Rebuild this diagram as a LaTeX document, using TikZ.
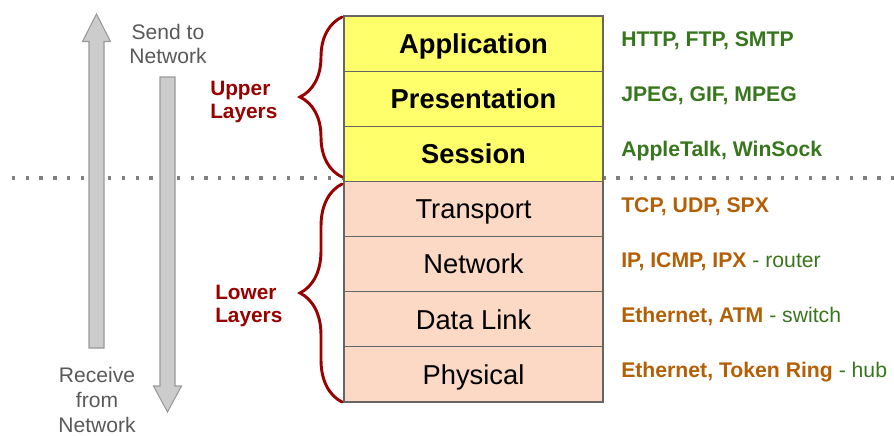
\documentclass[tikz,border=0pt]{standalone}
\usepackage{fontspec}
\setmainfont{Liberation Sans}
\usepackage{tikz}
\usetikzlibrary{decorations.pathreplacing}
\definecolor{osiyellow}{HTML}{FFFF6B}
\definecolor{osipeach}{HTML}{FCD9C4}
\definecolor{bracered}{HTML}{990000}
\definecolor{protogreen}{HTML}{38761D}
\definecolor{protoorange}{HTML}{B45F06}
\definecolor{notegray}{HTML}{595959}
\definecolor{arrowfill}{HTML}{CCCCCC}
\definecolor{arrowline}{HTML}{999999}
\tikzset{
  layerbox/.style={draw={rgb,255:red,102;green,102;blue,102}, line width=0.9pt, minimum width=194.25pt, minimum height=41.36pt, inner sep=0pt, outer sep=0pt, text height=14.7pt, text depth=0pt},
  layerup/.style={layerbox, fill=osiyellow, font=\fontsize{20.5}{24}\selectfont\bfseries},
  layerlow/.style={layerbox, fill=osipeach, font=\fontsize{20.5}{24}\selectfont},
  protolbl/.style={anchor=base west, inner sep=0pt, text=protogreen, font=\fontsize{15.9}{18.5}\selectfont},
  notelbl/.style={align=center, inner sep=0pt, text=notegray, font=\fontsize{15.8}{18.5}\selectfont},
  grouplbl/.style={align=left, anchor=north west, inner sep=0pt, text=bracered, font=\fontsize{15.6}{17.5}\selectfont\bfseries},
  layerbrace/.style={decorate, decoration={brace, amplitude=31.5pt}, draw=bracered, line width=2.2pt, line cap=round},
  bigarrow/.style={fill=arrowfill, draw=arrowline, line width=0.8pt}
}

\begin{document}
\begin{tikzpicture}[x=0.75pt,y=0.75pt,yscale=-1,xscale=1]
\useasboundingbox (0,0) rectangle (894,436);

%Straight Lines: separator
\coordinate (sepL) at (12,178);
\coordinate (sepR) at (894,178);
\draw [draw={rgb,255:red,128;green,128;blue,128}, line width=2.5pt, dash pattern=on 2.5pt off 7.8pt] (sepL) -- (sepR);

%Shape: Up Arrow
\draw [bigarrow] (89,348) -- (89,41.5) -- (82.5,41.5) -- (96.5,14) -- (110.5,41.5) -- (104,41.5) -- (104,348) -- cycle ;
%Shape: Down Arrow
\draw [bigarrow] (160,77) -- (160,386) -- (153.5,386) -- (167.5,412) -- (181.5,386) -- (175,386) -- (175,77) -- cycle ;

% Layers
\node [layerup] (app) at (473.5,43.57) {Application};
\node [layerup] (pres) at (473.5,98.71) {Presentation};
\node [layerup] (sess) at (473.5,153.86) {Session};
\node [layerlow] (trans) at (473.5,209) {Transport};
\node [layerlow] (net) at (473.5,264.14) {Network};
\node [layerlow] (link) at (473.5,319.29) {Data Link};
\node [layerlow] (phys) at (473.5,374.43) {Physical};

%Shape: Braces
\draw [layerbrace] (342,177) -- (342,17) ;
\draw [layerbrace] (342,402) -- (342,184) ;

% Text Node
\node [notelbl] (send) at (168,44) {Send to\\Network};
% Text Node
\node [notelbl] (recv) at (97,400) {Receive\\from\\Network};
% Text Node
\node [grouplbl] (upperlbl) at (210,80.5) {Upper\\Layers};
% Text Node
\node [grouplbl] (lowerlbl) at (215,284.5) {Lower\\Layers};

% Protocols
\node [protolbl] (httpl) at (621,46.6) {\bfseries HTTP, FTP, SMTP};
\node [protolbl] (jpegl) at (621,101.7) {\bfseries JPEG, GIF, MPEG};
\node [protolbl] (atalkl) at (621,156.9) {\bfseries AppleTalk, WinSock};
\node [protolbl] (tcpl) at (621,212) {\textcolor{protoorange}{\bfseries TCP, UDP, SPX}};
\node [protolbl] (ipl) at (621,267.1) {\textcolor{protoorange}{\bfseries IP, ICMP, IPX} - router};
\node [protolbl] (ethl) at (621,322.3) {\textcolor{protoorange}{\bfseries Ethernet, ATM} - switch};
\node [protolbl] (tokl) at (621,377.4) {\textcolor{protoorange}{\bfseries Ethernet, Token Ring} - hub};

\end{tikzpicture}
\end{document}
